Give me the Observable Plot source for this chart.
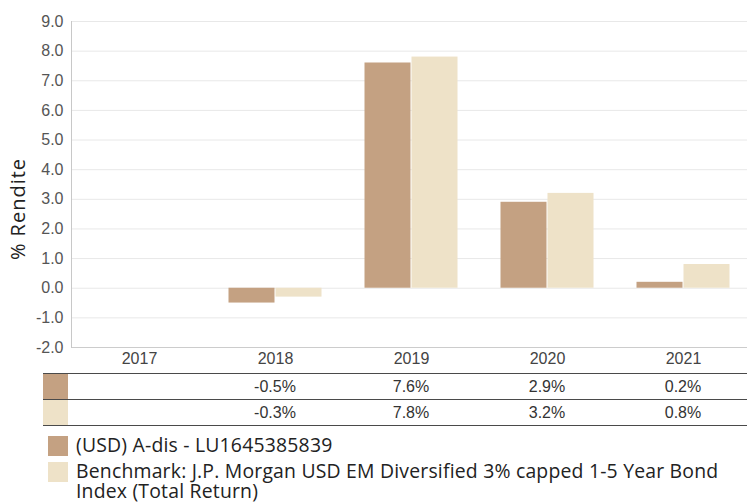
<!DOCTYPE html>
<html>
<head>
<meta charset="utf-8">
<script src="https://cdn.jsdelivr.net/npm/d3@7"></script>
<script src="https://cdn.jsdelivr.net/npm/@observablehq/plot@0.6"></script>
<style>
  html, body { margin: 0; padding: 0; background: #fff; }
  #wrap { position: relative; width: 747px; height: 502px; overflow: hidden; }
  #wrap svg { position: absolute; left: 0; top: 0; max-width: none !important; width: 752px; height: 372px !important; }
  .tline { position: absolute; left: 43px; width: 704px; height: 1px; background: #4a4a4a; }
  .sw { position: absolute; }
  .tval { position: absolute; font-family: "Liberation Sans", Arial, sans-serif; font-size: 16px; color: #333; transform: translate(-50%, -50%); white-space: nowrap; }
  .leg { position: absolute; left: 76px; font-family: "Open Sans", sans-serif; font-size: 19.4px; letter-spacing: 0.2px; line-height: 20px; color: #222; }
</style>
</head>
<body>
<div id="wrap"></div>
<script>
const years = ["2017", "2018", "2019", "2020", "2021"];
const seriesNames = ["(USD) A-dis - LU1645385839", "Benchmark: J.P. Morgan USD EM Diversified 3% capped 1-5 Year Bond Index (Total Return)"];
const fundValues = [null, -0.5, 7.6, 2.9, 0.2];
const benchValues = [null, -0.3, 7.8, 3.2, 0.8];
const seriesColors = ["#c4a182", "#eee2c8"];
const yTicks = [-2, -1, 0, 1, 2, 3, 4, 5, 6, 7, 8, 9];
const yLabel = "% Rendite";

const allValues = [fundValues, benchValues];
const rows = [];
allValues.forEach((vals, si) => vals.forEach((v, i) => {
  rows.push({year: years[i], series: seriesNames[si], value: v});
}));

const chart = Plot.plot({
  width: 752,
  height: 372,
  marginTop: 21,
  marginBottom: 25,
  marginLeft: 69,
  marginRight: 0,
  style: {fontFamily: "'Liberation Sans', Arial, sans-serif", fontSize: "16px", color: "#444", background: "transparent", overflow: "visible"},
  fx: {domain: years, padding: 0, label: null},
  x: {domain: seriesNames, axis: null, paddingInner: 0, paddingOuter: 0.44},
  y: {domain: [-2, 9], label: null},
  color: {domain: seriesNames, range: seriesColors},
  marks: [
    Plot.gridY(yTicks, {stroke: "#e8e8e8", strokeOpacity: 1}),
    Plot.ruleY([-2], {stroke: "#cccccc"}),
    Plot.frame({anchor: "left", stroke: "#c8c8c8", facetAnchor: "left"}),
    Plot.barY(rows, {fx: "year", x: "series", y: "value", fill: "series", insetLeft: 0.5, insetRight: 0.5}),
    Plot.axisY(yTicks, {tickSize: 0, tickPadding: 8, tickFormat: d => d.toFixed(1), label: null, fill: "#555"}),
    Plot.axisFx({anchor: "bottom", tickSize: 0, tickPadding: 5, label: null, fill: "#444"})
  ]
});

const wrap = document.getElementById("wrap");
wrap.appendChild(chart);

// y axis title
const yl = document.createElement("div");
yl.textContent = yLabel;
yl.style.cssText = "position:absolute;left:17px;top:209px;transform:translate(-50%,-50%) rotate(-90deg);font-family:'Open Sans',sans-serif;font-size:20px;letter-spacing:1px;color:#222;white-space:nowrap;";
wrap.appendChild(yl);

// data table below the chart
const fx = chart.scale("fx");
const rowTops = [374, 400];
[373, 399, 425].forEach(t => {
  const d = document.createElement("div");
  d.className = "tline";
  d.style.top = t + "px";
  wrap.appendChild(d);
});
allValues.forEach((vals, si) => {
  const sw = document.createElement("div");
  sw.className = "sw";
  sw.style.cssText += `left:43px;top:${rowTops[si]}px;width:25px;height:25px;background:${seriesColors[si]};`;
  wrap.appendChild(sw);
  vals.forEach((v, i) => {
    if (v == null) return;
    const t = document.createElement("div");
    t.className = "tval";
    t.textContent = v.toFixed(1) + "%";
    t.style.left = (fx.apply(years[i]) + fx.bandwidth / 2) + "px";
    t.style.top = (rowTops[si] + 12.5) + "px";
    wrap.appendChild(t);
  });
});

// legend
const legTops = [436, 462];
seriesNames.forEach((name, si) => {
  const sw = document.createElement("div");
  sw.className = "sw";
  sw.style.cssText += `left:48px;top:${legTops[si]}px;width:20px;height:20px;background:${seriesColors[si]};`;
  wrap.appendChild(sw);
  const t = document.createElement("div");
  t.className = "leg";
  t.style.top = (legTops[si] - 1) + "px";
  t.style.width = "671px";
  t.textContent = name;
  wrap.appendChild(t);
});
</script>
</body>
</html>
